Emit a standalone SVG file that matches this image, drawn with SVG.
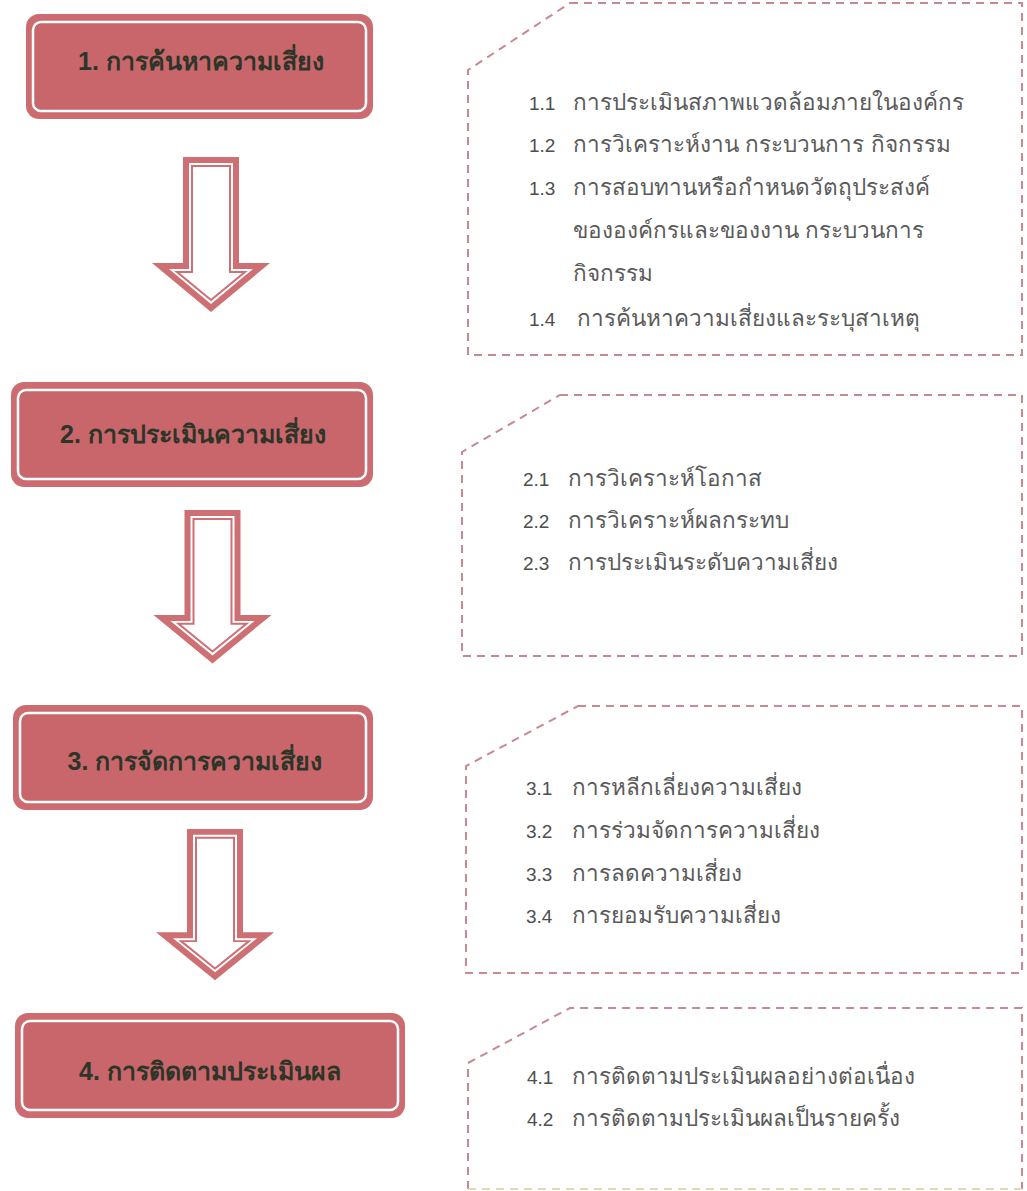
<svg xmlns="http://www.w3.org/2000/svg" xmlns:xlink="http://www.w3.org/1999/xlink" width="1027" height="1191" viewBox="0 0 1027 1191">
<style>
.outer{fill:#cc6c71;}
.inner{fill:#c8666b;stroke:#ffffff;stroke-width:2.5;}
.head{font-family:"Liberation Sans","Noto Sans",sans-serif;font-weight:bold;font-size:25px;fill:#2c3527;text-anchor:middle;}
.dash{fill:none;stroke:#c98892;stroke-width:2;stroke-dasharray:8 6;}
.faint{fill:none;stroke:#e8d6b0;stroke-width:2;stroke-dasharray:8 6;}
.num{font-family:"Liberation Sans","Noto Sans",sans-serif;font-size:19px;fill:#4e4e4e;}
.item{font-family:"Liberation Sans","Noto Sans",sans-serif;font-size:22.5px;fill:#5a5a5a;}
</style>
<defs>
<g id="arrow">
<path d="M-28,0 H28 V106 H59 L0,155 L-59,106 H-28 Z" fill="#cd6f73"/>
<path d="M-22,6 H22 V112 H42 L0,147 L-42,112 H-22 Z" fill="#ffffff"/>
<path d="M-19,9 H19 V115 H34 L0,143 L-34,115 H-19 Z" fill="none" stroke="#cd6f73" stroke-width="2"/>
</g>
</defs>
<rect width="1027" height="1191" fill="#ffffff"/>

<g id="node1">
<rect class="outer" x="26" y="14" width="347" height="105" rx="13"/>
<rect class="inner" x="33" y="22" width="333" height="89" rx="8"/>
<text class="head" x="201" y="70">1. การค้นหาความเสี่ยง</text>
</g>
<g id="node2">
<rect class="outer" x="11" y="382" width="362" height="105" rx="13"/>
<rect class="inner" x="18" y="390" width="348" height="89" rx="8"/>
<text class="head" x="193" y="443">2. การประเมินความเสี่ยง</text>
</g>
<g id="node3">
<rect class="outer" x="13" y="705" width="360" height="105" rx="13"/>
<rect class="inner" x="20" y="713" width="346" height="89" rx="8"/>
<text class="head" x="195" y="770">3. การจัดการความเสี่ยง</text>
</g>
<g id="node4">
<rect class="outer" x="15" y="1013" width="390" height="105" rx="13"/>
<rect class="inner" x="22" y="1021" width="376" height="89" rx="8"/>
<text class="head" x="210" y="1080">4. การติดตามประเมินผล</text>
</g>

<g id="detail1">
<path class="dash" d="M570,3 H1022 V355 H468 V70 Z"/>
<text class="num" x="529" y="110">1.1</text><text class="item" x="573" y="110">การประเมินสภาพแวดล้อมภายในองค์กร</text>
<text class="num" x="529" y="152">1.2</text><text class="item" x="573" y="152">การวิเคราะห์งาน กระบวนการ กิจกรรม</text>
<text class="num" x="529" y="195">1.3</text><text class="item" x="573" y="195">การสอบทานหรือกำหนดวัตถุประสงค์</text>
<text class="item" x="573" y="238">ขององค์กรและของงาน กระบวนการ</text>
<text class="item" x="573" y="281">กิจกรรม</text>
<text class="num" x="529" y="326">1.4</text><text class="item" x="577" y="326">การค้นหาความเสี่ยงและระบุสาเหตุ</text>
</g>
<g id="detail2">
<path class="dash" d="M560,395 H1022 V656 H462 V452 Z"/>
<text class="num" x="523" y="486">2.1</text><text class="item" x="568" y="486">การวิเคราะห์โอกาส</text>
<text class="num" x="523" y="528">2.2</text><text class="item" x="568" y="528">การวิเคราะห์ผลกระทบ</text>
<text class="num" x="523" y="570">2.3</text><text class="item" x="568" y="570">การประเมินระดับความเสี่ยง</text>
</g>
<g id="detail3">
<path class="dash" d="M578,706 H1022 V973 H466 V766 Z"/>
<text class="num" x="526" y="795">3.1</text><text class="item" x="572" y="795">การหลีกเลี่ยงความเสี่ยง</text>
<text class="num" x="526" y="838">3.2</text><text class="item" x="572" y="838">การร่วมจัดการความเสี่ยง</text>
<text class="num" x="526" y="881">3.3</text><text class="item" x="572" y="881">การลดความเสี่ยง</text>
<text class="num" x="526" y="923">3.4</text><text class="item" x="572" y="923">การยอมรับความเสี่ยง</text>
</g>
<g id="detail4">
<path class="dash" d="M468,1189 V1063 L570,1008 H1022 V1189"/>
<path class="faint" d="M468,1189 H1022"/>
<text class="num" x="527" y="1084">4.1</text><text class="item" x="572" y="1084">การติดตามประเมินผลอย่างต่อเนื่อง</text>
<text class="num" x="527" y="1126">4.2</text><text class="item" x="572" y="1126">การติดตามประเมินผลเป็นรายครั้ง</text>
</g>

<g id="connectors">
<use xlink:href="#arrow" transform="translate(211,157)"/>
<use xlink:href="#arrow" transform="translate(212.5,510) scale(1,0.99)"/>
<use xlink:href="#arrow" transform="translate(215,829) scale(1,0.975)"/>
</g>
</svg>
